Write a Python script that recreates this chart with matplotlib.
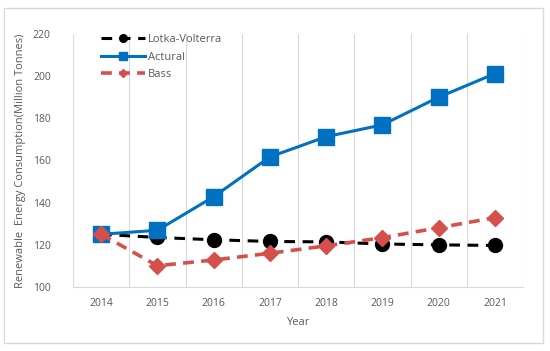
import matplotlib
matplotlib.use('Agg')
import matplotlib.pyplot as plt
from matplotlib.patches import Rectangle

years = ['2014', '2015', '2016', '2017', '2018', '2019', '2020', '2021']
lotka = [125.0, 123.5, 122.4, 121.6, 121.4, 120.4, 120.0, 119.7]
actual = [125.0, 126.9, 142.8, 161.7, 171.3, 176.9, 190.0, 201.2]
bass = [125.0, 110.1, 112.8, 116.0, 119.5, 123.4, 128.1, 132.9]

plt.rcParams['font.family'] = ['Open Sans', 'DejaVu Sans']
grey = '#595959'

fig = plt.figure(figsize=(5.5, 3.51), dpi=100)
ax = fig.add_axes([73 / 550, 1 - 287 / 351, 450 / 550, 253 / 351])

x = list(range(len(years)))
ax.plot(x, lotka, color='black', lw=2.2, ls=(0, (3.5, 2.5)), marker='o', ms=10,
        label='Lotka-Volterra', zorder=3)
ax.plot(x, actual, color='#0070C0', lw=2.2, marker='s', ms=11,
        label='Actural', zorder=4)
ax.plot(x, bass, color='#D5504D', lw=2.6, ls=(0, (3, 2)), marker='D', ms=8,
        label='Bass', zorder=5)

ax.set_xlim(-0.5, len(years) - 0.5)
ax.set_ylim(100, 220)
ax.set_yticks(range(100, 221, 20))
ax.set_xticks(x)
ax.set_xticklabels(years)
ax.tick_params(axis='both', length=0, labelsize=7.5, colors=grey, pad=8)
ax.tick_params(axis='y', pad=16)

for b in [i - 0.5 for i in range(len(years) + 1)]:
    ax.axvline(b, color='#d9d9d9', lw=0.8, zorder=1)
for s in ['top', 'right', 'left']:
    ax.spines[s].set_visible(False)
ax.spines['bottom'].set_color('#d9d9d9')
ax.spines['bottom'].set_linewidth(0.8)

ax.set_xlabel('Year', fontsize=8, color=grey, labelpad=6)
ax.set_ylabel('Renewable  Energy Consumption(Million Tonnes)', fontsize=8,
              color=grey, labelpad=5)

leg = ax.legend(loc='upper left', bbox_to_anchor=(0.04, 1.04), frameon=False,
                fontsize=8, handlelength=4.0, markerscale=0.55,
                labelspacing=0.6, handletextpad=0.2)
for t in leg.get_texts():
    t.set_color(grey)

fig.patches.append(Rectangle((4 / 550, 8 / 351), 539 / 550, 335 / 351,
                             transform=fig.transFigure, fill=False,
                             edgecolor='#d9d9d9', lw=1))

fig.savefig('out.png', dpi=100)
